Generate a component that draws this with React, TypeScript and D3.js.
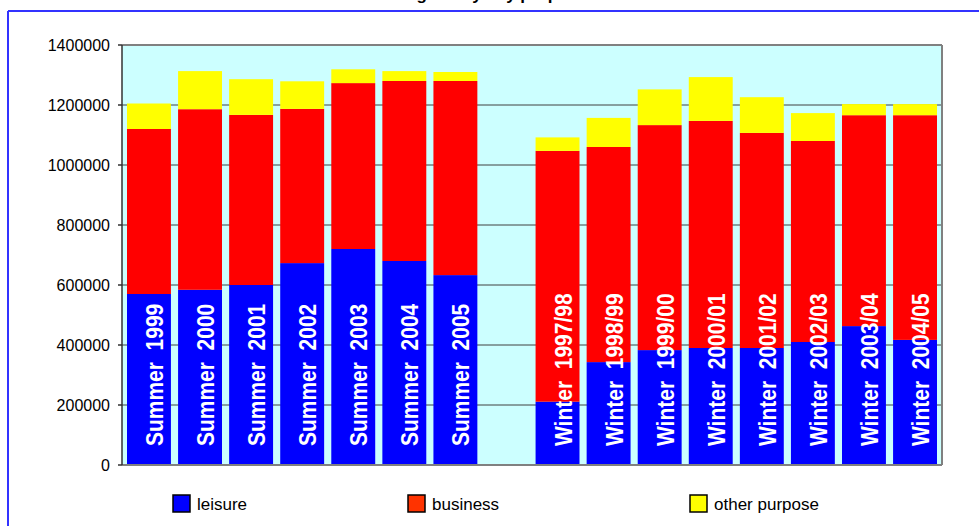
import React from "react";
import * as d3 from "d3";

const categories = [
  "Summer  1999", "Summer  2000", "Summer  2001", "Summer  2002", "Summer  2003", "Summer  2004", "Summer  2005",
  "",
  "Winter  1997/98", "Winter  1998/99", "Winter  1999/00", "Winter  2000/01", "Winter  2001/02", "Winter  2002/03", "Winter  2003/04", "Winter  2004/05",
];
const leisure = [570000, 584000, 600000, 673000, 720000, 680000, 633000, 0, 211000, 343000, 383000, 390000, 390000, 410000, 463000, 417000];
const business = [550000, 602000, 567000, 514000, 553000, 600000, 647000, 0, 836000, 717000, 750000, 757000, 717000, 670000, 703000, 749000];
const otherPurpose = [85000, 127000, 119000, 92000, 46000, 33000, 30000, 0, 45000, 97000, 119000, 146000, 119000, 93000, 37000, 37000];
const seriesNames = ["leisure", "business", "other purpose"];
const seriesColors = ["#0000FF", "#FF0000", "#FFFF00"];
const legendColors = ["#0000FF", "#FF3300", "#FFFF00"];
const yTicks = [0, 200000, 400000, 600000, 800000, 1000000, 1200000, 1400000];
const title = "Overnight stays by purpose";

const W = 979, H = 526;
const plot = { left: 122, right: 942, top: 45, bottom: 465 };
const FONT = "Arial, 'Liberation Sans', Helvetica, sans-serif";

export default function App() {
  const idx = categories.map((_, i) => String(i));
  const x = d3.scaleBand<string>().domain(idx).range([plot.left, plot.right]).paddingInner(0.14).paddingOuter(0.098);
  const y = d3.scaleLinear().domain([0, 1400000]).range([plot.bottom, plot.top]);

  const rows = categories.map((c, i) => ({ key: String(i), c, leisure: leisure[i], business: business[i], other: otherPurpose[i] }));
  const stack = d3.stack<any>().keys(["leisure", "business", "other"])(rows);

  const legendX = [173, 408, 690];

  return (
    <svg width={W} height={H} style={{ position: "absolute", left: 0, top: 0, background: "#fff" }}>
      <text x={475} y={0} textAnchor="middle" fontFamily={FONT} fontWeight="bold" fontSize={17} fill="#000">{title}</text>
      <line x1={8} y1={11} x2={W} y2={11} stroke="#3333FF" strokeWidth={2} />
      <line x1={8} y1={11} x2={8} y2={H} stroke="#3333FF" strokeWidth={2} />

      <rect x={plot.left} y={plot.top} width={plot.right - plot.left} height={plot.bottom - plot.top} fill="#CCFFFF" />
      {yTicks.filter(t => t > 0 && t < 1400000).map(t => (
        <line key={t} x1={plot.left} x2={plot.right} y1={y(t)} y2={y(t)} stroke="#404040" strokeWidth={1} />
      ))}

      {stack.map((s, si) => (
        <g key={si} fill={seriesColors[si]}>
          {s.map((d: any, i: number) => categories[i] === "" ? null : (
            <rect key={i} x={x(String(i))} width={x.bandwidth()} y={y(d[1])} height={y(d[0]) - y(d[1])} />
          ))}
        </g>
      ))}

      {categories.map((c, i) => c === "" ? null : (
        <text key={i} transform={`translate(${(x(String(i)) as number) + x.bandwidth() / 2 + 14},446) rotate(-90) scale(1,1.15)`}
          fontFamily={FONT} fontWeight="bold" fontSize={21} fill="#fff" style={{ whiteSpace: "pre" }} xmlSpace="preserve">{c}</text>
      ))}

      <line x1={plot.left} x2={plot.right} y1={plot.top} y2={plot.top} stroke="#808080" strokeWidth={2} />
      <line x1={plot.right} x2={plot.right} y1={plot.top} y2={plot.bottom} stroke="#808080" strokeWidth={2} />
      <line x1={plot.left} x2={plot.right} y1={plot.bottom} y2={plot.bottom} stroke="#808080" strokeWidth={2} />
      <line x1={plot.left} x2={plot.left} y1={plot.top} y2={plot.bottom} stroke="#333" strokeWidth={1.5} />
      {yTicks.map(t => (
        <g key={t}>
          <line x1={plot.left - 4} x2={plot.left} y1={y(t)} y2={y(t)} stroke="#333" strokeWidth={1.5} />
          <text x={110} y={y(t)} dy="0.36em" textAnchor="end" fontFamily={FONT} fontSize={16} fill="#000">{String(t)}</text>
        </g>
      ))}

      {seriesNames.map((n, i) => (
        <g key={n}>
          <rect x={legendX[i]} y={495} width={17} height={17} fill={legendColors[i]} stroke="#000" strokeWidth={1.5} />
          <text x={legendX[i] + 24} y={510} fontFamily={FONT} fontSize={17} fill="#000">{n}</text>
        </g>
      ))}
    </svg>
  );
}
